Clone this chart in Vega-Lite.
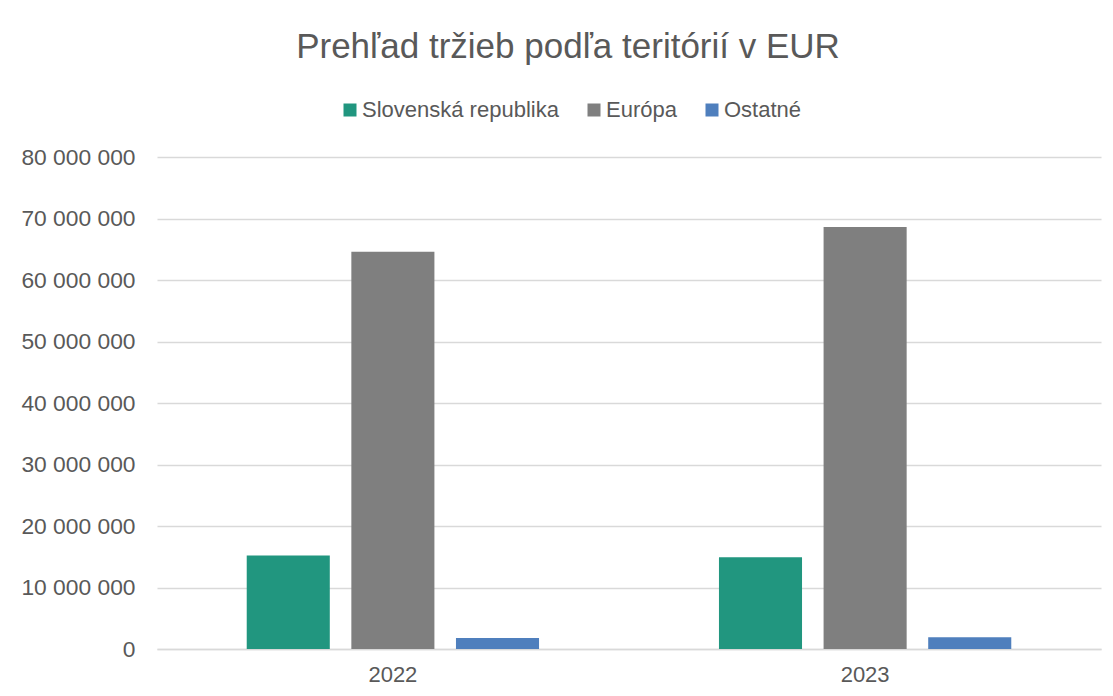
{
  "$schema": "https://vega.github.io/schema/vega-lite/v6.json",
  "width": 944,
  "height": 492,
  "autosize": "none",
  "padding": {"left": 157, "top": 157, "right": 12, "bottom": 47},
  "background": "white",
  "title": {
    "text": "Prehľad tržieb podľa teritórií v EUR",
    "font": "Liberation Sans",
    "fontSize": 35,
    "fontWeight": "normal",
    "color": "#595959",
    "anchor": "middle",
    "frame": "group",
    "dx": -61,
    "dy": -30
  },
  "data": {
    "values": [
      {"rok": "2022", "teritorium": "Slovenská republika", "trzby": 15200000},
      {"rok": "2022", "teritorium": "Európa", "trzby": 64600000},
      {"rok": "2022", "teritorium": "Ostatné", "trzby": 1800000},
      {"rok": "2023", "teritorium": "Slovenská republika", "trzby": 14900000},
      {"rok": "2023", "teritorium": "Európa", "trzby": 68600000},
      {"rok": "2023", "teritorium": "Ostatné", "trzby": 1900000}
    ]
  },
  "mark": {"type": "bar"},
  "encoding": {
    "x": {
      "field": "rok",
      "type": "nominal",
      "scale": {"paddingInner": 0.381, "paddingOuter": 0.19},
      "axis": {
        "title": null,
        "labelAngle": 0,
        "labelFont": "Liberation Sans",
        "labelFontSize": 22,
        "labelColor": "#595959",
        "labelPadding": 15,
        "ticks": false,
        "domainColor": "#d9d9d9",
        "domainWidth": 1.5
      }
    },
    "xOffset": {
      "field": "teritorium",
      "type": "nominal",
      "sort": ["Slovenská republika", "Európa", "Ostatné"],
      "scale": {"paddingInner": 0.206, "paddingOuter": 0}
    },
    "y": {
      "field": "trzby",
      "type": "quantitative",
      "scale": {"domain": [0, 80000000], "nice": false},
      "axis": {
        "title": null,
        "values": [0, 10000000, 20000000, 30000000, 40000000, 50000000, 60000000, 70000000, 80000000],
        "format": ",.0f",
        "labelFont": "Liberation Sans",
        "labelFontSize": 22.8,
        "labelColor": "#595959",
        "labelPadding": 22,
        "ticks": false,
        "domain": false,
        "gridColor": "#d9d9d9",
        "gridWidth": 1.5
      }
    },
    "color": {
      "field": "teritorium",
      "type": "nominal",
      "sort": ["Slovenská republika", "Európa", "Ostatné"],
      "scale": {
        "domain": ["Slovenská republika", "Európa", "Ostatné"],
        "range": ["#21967f", "#7f7f7f", "#4f7fbd"]
      },
      "legend": {
        "title": null,
        "orient": "none",
        "direction": "horizontal",
        "legendX": 182,
        "legendY": -58,
        "symbolType": "square",
        "symbolSize": 169,
        "symbolStrokeWidth": 0,
        "symbolOpacity": 1,
        "labelFont": "Liberation Sans",
        "labelFontSize": 22,
        "labelColor": "#595959",
        "labelOffset": 1,
        "labelLimit": 400,
        "columnPadding": 24
      }
    }
  },
  "config": {
    "locale": {
      "number": {
        "decimal": ",",
        "thousands": " ",
        "grouping": [3],
        "currency": ["", " €"]
      }
    },
    "view": {"stroke": null}
  }
}
